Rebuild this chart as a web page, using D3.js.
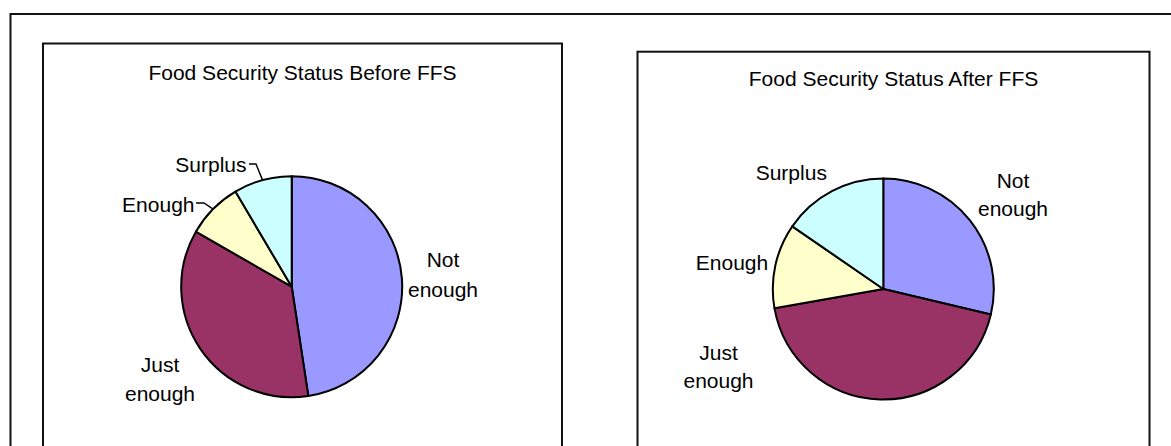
<!DOCTYPE html>
<html>
<head>
<meta charset="utf-8">
<script src="https://cdn.jsdelivr.net/npm/d3@7"></script>
<style>
  html, body { margin: 0; padding: 0; background: #fff; }
  svg { display: block; }
  text { font-family: "Liberation Sans", Arial, sans-serif; fill: #000; }
</style>
</head>
<body>
<svg id="chart" width="1171" height="446"></svg>
<script>
// ---- data ----
const categories = ["Not enough", "Just enough", "Enough", "Surplus"];
const beforeValues = [47.6, 35.7, 8.2, 8.5];
const afterValues = [28.7, 43.5, 12.4, 15.4];
const chartTitles = ["Food Security Status Before FFS", "Food Security Status After FFS"];
const sliceColors = ["#9999FF", "#993366", "#FFFFCC", "#CCFFFF"];

// ---- layout ----
const svg = d3.select("#chart");

// outer frame
svg.append("rect").attr("x", 10.5).attr("y", 14).attr("width", 1300).attr("height", 600)
  .attr("fill", "#fff").attr("stroke", "#111").attr("stroke-width", 2);

const panels = [
  {
    values: beforeValues, title: chartTitles[0],
    box: {x: 43, y: 43.5, w: 519},
    titleY: 80, cx: 291.7, cy: 286.7, r: 110.5,
    labels: [
      {lines: ["Not", "enough"], x: 443, y: 267, dy: 29.5, anchor: "middle"},
      {lines: ["Just", "enough"], x: 160, y: 371.5, dy: 29.5, anchor: "middle"},
      {lines: ["Enough"], x: 194.5, y: 211.5, dy: 0, anchor: "end",
        leader: [[196, 203], [204, 203]]},
      {lines: ["Surplus"], x: 246.5, y: 171.5, dy: 0, anchor: "end",
        leader: [[249, 164], [256, 164]]}
    ]
  },
  {
    values: afterValues, title: chartTitles[1],
    box: {x: 637.5, y: 51.7, w: 512},
    titleY: 86, cx: 883.3, cy: 289, r: 110.5,
    labels: [
      {lines: ["Not", "enough"], x: 1013, y: 188, dy: 27.5, anchor: "middle"},
      {lines: ["Just", "enough"], x: 718.5, y: 360, dy: 28, anchor: "middle"},
      {lines: ["Enough"], x: 732, y: 270, dy: 0, anchor: "middle"},
      {lines: ["Surplus"], x: 791.3, y: 180, dy: 0, anchor: "middle"}
    ]
  }
];

const pie = d3.pie().sort(null).value(d => d);

panels.forEach(p => {
  svg.append("rect").attr("x", p.box.x).attr("y", p.box.y)
    .attr("width", p.box.w).attr("height", 600)
    .attr("fill", "#fff").attr("stroke", "#111").attr("stroke-width", 2);

  svg.append("text").attr("x", p.box.x + p.box.w / 2).attr("y", p.titleY)
    .attr("text-anchor", "middle").attr("font-size", 21).text(p.title);

  const arc = d3.arc().innerRadius(0).outerRadius(p.r);
  const edge = d3.arc().innerRadius(p.r).outerRadius(p.r);
  const g = svg.append("g").attr("transform", `translate(${p.cx},${p.cy})`);
  const arcs = pie(p.values);

  g.selectAll("path").data(arcs).join("path")
    .attr("d", arc)
    .attr("fill", (d, i) => sliceColors[i])
    .attr("stroke", "#000").attr("stroke-width", 2)
    .attr("stroke-linejoin", "round");

  // labels
  p.labels.forEach((lb, i) => {
    const t = svg.append("text").attr("font-size", 21).attr("text-anchor", lb.anchor);
    lb.lines.forEach((ln, k) => {
      t.append("tspan").attr("x", lb.x).attr("y", lb.y + k * lb.dy).text(ln);
    });
    if (lb.leader) {
      const c = edge.centroid(arcs[i]);
      const pts = lb.leader.concat([[p.cx + c[0], p.cy + c[1]]]);
      svg.append("path").attr("d", d3.line()(pts))
        .attr("fill", "none").attr("stroke", "#000").attr("stroke-width", 1.4);
    }
  });
});
</script>
</body>
</html>
